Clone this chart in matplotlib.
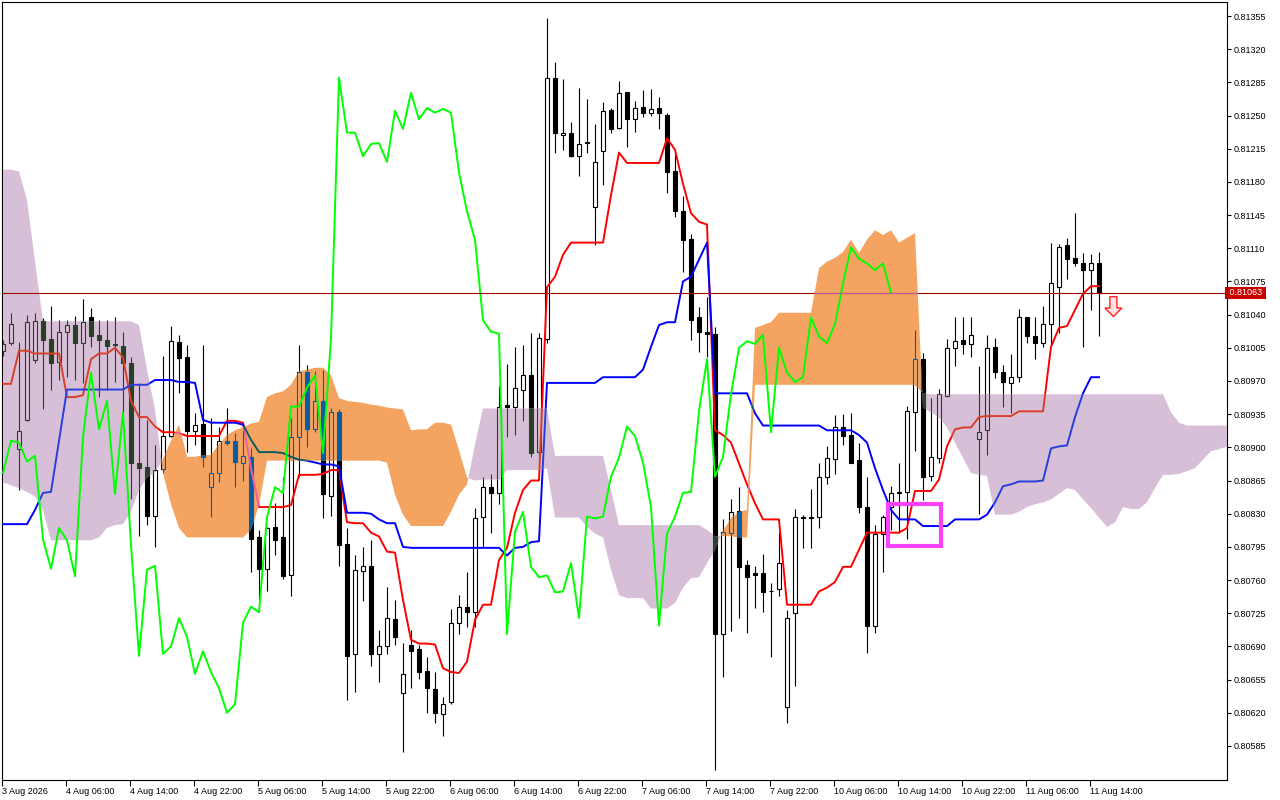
import numpy as np
import matplotlib.pyplot as plt
from matplotlib.path import Path
from matplotlib.patches import Rectangle, Polygon
from matplotlib.transforms import blended_transform_factory

plt.rcParams['font.family'] = ['Liberation Sans', 'DejaVu Sans']

# H1 candles, bar 0 = 3 Aug 22:00 ; prices in points (1e-5)
opens = [
    81002, 81010, 80898, 80929, 80992, 81033, 81014, 80990, 81022, 81029,
    81010, 81037, 81018, 81013, 81009, 81007, 80989, 80884, 80879, 80828,
    80877, 80912, 81011, 80995, 80917, 80925, 80858, 80873, 80907, 80907,
    80884, 80890, 80805, 80772, 80816, 80805, 80765, 80911, 80979, 80919,
    80949, 80849, 80937, 80798, 80682, 80770, 80775, 80682, 80690, 80719,
    80641, 80692, 80687, 80664, 80645, 80619, 80631, 80715, 80732, 80726,
    80827, 80858, 80852, 80945, 80943, 80961, 80976, 80895, 81014, 81290,
    81229, 81232, 81207, 81222, 81154, 81213, 81256, 81237, 81275, 81246,
    81259, 81253, 81258, 81251, 81191, 81149, 81120, 81037, 81022, 81020,
    80703, 80810, 80833, 80776, 80767, 80767, 80749, 80751, 80626, 80725,
    80827, 80826, 80827, 80869, 80888, 80921, 80913, 80887, 80837, 80712,
    80809, 80837, 80852, 80853, 80937, 80993, 80870, 80889, 80954, 81005,
    81013, 81009, 80909, 80918, 81006, 80979, 80968, 80974, 81037, 81017,
    81010, 81030, 81069, 81113, 81100, 81095, 81087, 81094,
]
highs = [
    81013, 81042, 81011, 81040, 81042, 81036, 81049, 81034, 81034, 81039,
    81057, 81047, 81034, 81034, 81038, 81022, 80995, 80968, 80929, 80903,
    80996, 81028, 81018, 81008, 80936, 81008, 80931, 80922, 80941, 80915,
    80922, 80899, 80813, 80816, 80841, 80869, 80931, 81008, 80987, 80981,
    80982, 80941, 80940, 80815, 80786, 80795, 80802, 80707, 80753, 80739,
    80694, 80707, 80692, 80679, 80663, 80637, 80729, 80744, 80768, 80836,
    80869, 80872, 80965, 80988, 81006, 81008, 81021, 81021, 81353, 81307,
    81289, 81243, 81279, 81268, 81241, 81264, 81258, 81286, 81275, 81265,
    81277, 81278, 81270, 81253, 81210, 81165, 81125, 81048, 81059, 81027,
    80824, 80846, 80858, 80781, 80775, 80787, 80757, 80811, 80728, 80835,
    80829, 80856, 80884, 80901, 80934, 80935, 80936, 80905, 80869, 80818,
    80829, 80859, 80883, 80944, 81024, 81000, 80952, 80962, 81014, 81037,
    81037, 81037, 80986, 81018, 81015, 80987, 80999, 81046, 81038, 81037,
    81049, 81116, 81114, 81121, 81147, 81105, 81104, 81106,
]
lows = [
    80996, 81008, 80855, 80928, 80989, 80940, 80961, 80971, 80974, 80971,
    80968, 81006, 80953, 80961, 80969, 80936, 80845, 80806, 80818, 80795,
    80873, 80911, 80957, 80895, 80902, 80879, 80827, 80863, 80903, 80858,
    80864, 80768, 80739, 80749, 80786, 80761, 80743, 80869, 80900, 80916,
    80825, 80828, 80775, 80633, 80642, 80738, 80669, 80653, 80682, 80692,
    80579, 80646, 80656, 80620, 80609, 80595, 80629, 80703, 80710, 80711,
    80794, 80810, 80840, 80911, 80913, 80928, 80890, 80890, 81010, 81211,
    81214, 81206, 81186, 81211, 81113, 81177, 81232, 81236, 81217, 81233,
    81249, 81250, 81236, 81168, 81143, 81085, 81013, 81001, 80995, 80560,
    80658, 80706, 80720, 80704, 80731, 80726, 80679, 80743, 80609, 80648,
    80794, 80794, 80815, 80861, 80872, 80902, 80883, 80831, 80683, 80704,
    80769, 80813, 80810, 80803, 80896, 80844, 80864, 80884, 80953, 80986,
    80998, 80995, 80830, 80892, 80973, 80943, 80936, 80969, 81010, 80993,
    81006, 81008, 81021, 81078, 81091, 81006, 81045, 81017,
]
closes = [
    81009, 81030, 80917, 81032, 81033, 81013, 80989, 81022, 81029, 81010,
    81032, 81017, 81013, 81007, 81008, 80989, 80884, 80878, 80828, 80876,
    80912, 81012, 80994, 80917, 80924, 80890, 80873, 80907, 80905, 80885,
    80891, 80803, 80772, 80815, 80802, 80764, 80911, 80979, 80919, 80949,
    80851, 80937, 80797, 80680, 80771, 80775, 80682, 80690, 80720, 80700,
    80661, 80685, 80663, 80646, 80620, 80629, 80715, 80732, 80726, 80826,
    80858, 80852, 80943, 80943, 80963, 80976, 80894, 81015, 81290, 81232,
    81232, 81207, 81220, 81221, 81201, 81255, 81236, 81274, 81246, 81258,
    81253, 81257, 81253, 81190, 81149, 81119, 81034, 81022, 81020, 80703,
    80811, 80832, 80774, 80763, 80765, 80747, 80748, 80778, 80720, 80827,
    80825, 80827, 80869, 80889, 80922, 80912, 80884, 80837, 80712, 80809,
    80827, 80852, 80853, 80938, 80993, 80869, 80890, 80956, 81005, 81012,
    81009, 81019, 80916, 81005, 80979, 80969, 80974, 81037, 81017, 81010,
    81030, 81073, 81111, 81099, 81094, 81087, 81094, 81063,
]
tenkan = [
    80967, 80967, 81002, 81002, 80999, 80999, 80999, 80999, 80953, 80953,
    80955, 80993, 80999, 80999, 81005, 80995, 80949, 80932, 80932, 80922,
    80916, 80916, 80915, 80912, 80912, 80912, 80912, 80912, 80928, 80928,
    80926, 80878, 80837, 80837, 80837, 80837, 80839, 80871, 80871, 80871,
    80872, 80876, 80876, 80821, 80820, 80820, 80810, 80806, 80790, 80789,
    80739, 80697, 80693, 80693, 80692, 80667, 80663, 80662, 80674, 80718,
    80734, 80734, 80781, 80794, 80831, 80855, 80865, 80865, 81069, 81080,
    81103, 81116, 81116, 81116, 81116, 81116, 81166, 81211, 81200, 81200,
    81200, 81200, 81200, 81226, 81214, 81178, 81147, 81138, 81135, 80918,
    80913, 80905, 80883, 80861, 80841, 80824, 80824, 80824, 80734, 80734,
    80734, 80734, 80748, 80752, 80758, 80774, 80774, 80792, 80810, 80810,
    80810, 80810, 80810, 80815, 80854, 80854, 80854, 80866, 80901, 80919,
    80921, 80921, 80932, 80933, 80933, 80933, 80933, 80938, 80938, 80938,
    80938, 81006, 81026, 81028, 81045, 81062, 81070, 81070,
]
kijun = [
    80819, 80819, 80819, 80819, 80834, 80852, 80853, 80907, 80961, 80961,
    80961, 80961, 80961, 80961, 80961, 80961, 80966, 80966, 80966, 80971,
    80971, 80971, 80969, 80969, 80968, 80929, 80926, 80926, 80926, 80926,
    80924, 80908, 80895, 80895, 80895, 80894, 80890, 80887, 80886, 80884,
    80882, 80882, 80880, 80831, 80831, 80831, 80830, 80824, 80820, 80820,
    80795, 80794, 80794, 80794, 80794, 80794, 80794, 80794, 80794, 80794,
    80794, 80794, 80794, 80786, 80794, 80795, 80800, 80801, 80968, 80968,
    80968, 80968, 80968, 80968, 80968, 80974, 80974, 80974, 80974, 80974,
    80982, 81006, 81029, 81032, 81032, 81075, 81080, 81098, 81116, 80957,
    80957, 80957, 80957, 80957, 80936, 80923, 80923, 80923, 80923, 80923,
    80923, 80923, 80923, 80918, 80918, 80918, 80918, 80913, 80905, 80878,
    80855, 80834, 80824, 80824, 80824, 80817, 80817, 80817, 80817, 80824,
    80824, 80824, 80824, 80829, 80842, 80859, 80861, 80864, 80864, 80864,
    80865, 80899, 80901, 80902, 80932, 80957, 80974, 80974,
]
# senkou spans, already shifted 26 bars ahead
span_a = [
    80863, 80860, 80857, 80853, 80848, 80834, 80802, 80802, 80802, 80802,
    80802, 80802, 80805, 80815, 80818, 80819, 80832, 80855, 80868, 80874,
    80887, 80907, 80924, 80890, 80890, 80892, 80892, 80903, 80913, 80918,
    80921, 80925, 80927, 80953, 80957, 80959, 80966, 80980, 80982, 80984,
    80984, 80976, 80952, 80949, 80948, 80947, 80945, 80944, 80942, 80941,
    80940, 80918, 80919, 80919, 80926, 80926, 80924, 80897, 80868, 80865,
    80866, 80866, 80866, 80876, 80876, 80876, 80876, 80876, 80878, 80826,
    80826, 80826, 80826, 80816, 80809, 80805, 80771, 80744, 80741, 80741,
    80741, 80730, 80730, 80730, 80736, 80752, 80762, 80763, 80778, 80792,
    80812, 80825, 80832, 80834, 81026, 81029, 81032, 81042, 81042, 81042,
    81042, 81042, 81089, 81096, 81100, 81106, 81119, 81105, 81119, 81129,
    81124, 81129, 81116, 81121, 81126, 80942, 80937, 80932, 80921, 80905,
    80889, 80873, 80871, 80870, 80829, 80829, 80829, 80832, 80837, 80840,
    80842, 80845, 80851, 80857, 80855, 80845, 80836, 80826, 80816, 80821,
    80837, 80835, 80835, 80842, 80857, 80871, 80871, 80872, 80875, 80878,
    80887, 80896, 80898, 80901, 80901,
]
span_b = [
    81193, 81193, 81191, 81161, 81096, 81033, 81033, 81033, 81033, 81033,
    81033, 81033, 81033, 81033, 81033, 81033, 81033, 81029, 80982, 80940,
    80873, 80840, 80815, 80805, 80805, 80805, 80805, 80805, 80805, 80805,
    80805, 80813, 80839, 80886, 80886, 80886, 80886, 80886, 80886, 80886,
    80886, 80886, 80886, 80886, 80886, 80886, 80886, 80886, 80884, 80850,
    80829, 80817, 80817, 80817, 80817, 80817, 80832, 80850, 80861, 80903,
    80941, 80941, 80941, 80941, 80941, 80941, 80941, 80941, 80941, 80891,
    80891, 80891, 80891, 80891, 80891, 80891, 80855, 80818, 80818, 80818,
    80818, 80818, 80818, 80818, 80818, 80818, 80818, 80818, 80813, 80806,
    80807, 80806, 80805, 80805, 80966, 80966, 80966, 80966, 80966, 80966,
    80966, 80966, 80966, 80966, 80966, 80966, 80966, 80966, 80966, 80966,
    80966, 80966, 80966, 80966, 80966, 80957, 80956, 80956, 80956, 80956,
    80956, 80956, 80956, 80956, 80956, 80956, 80956, 80956, 80956, 80956,
    80956, 80956, 80956, 80956, 80956, 80956, 80956, 80956, 80956, 80956,
    80956, 80956, 80956, 80956, 80956, 80956, 80937, 80926, 80923, 80923,
    80923, 80923, 80923, 80923, 80923,
]
time_labels = ["3 Aug 2026", "4 Aug 06:00", "4 Aug 14:00", "4 Aug 22:00",
               "5 Aug 06:00", "5 Aug 14:00", "5 Aug 22:00", "6 Aug 06:00",
               "6 Aug 14:00", "6 Aug 22:00", "7 Aug 06:00", "7 Aug 14:00",
               "7 Aug 22:00", "10 Aug 06:00", "10 Aug 14:00", "10 Aug 22:00",
               "11 Aug 06:00", "11 Aug 14:00"]
price_ticks = [0.80585, 0.80620, 0.80655, 0.80690, 0.80725, 0.80760, 0.80795,
               0.80830, 0.80865, 0.80900, 0.80935, 0.80970, 0.81005, 0.81040,
               0.81075, 0.81110, 0.81145, 0.81180, 0.81215, 0.81250, 0.81285,
               0.81320, 0.81355]
last_price = 0.81063

PT = 1e-5
o = np.array(opens) * PT
h = np.array(highs) * PT
l = np.array(lows) * PT
c = np.array(closes) * PT
tk = np.array(tenkan) * PT
kj = np.array(kijun) * PT
sa = np.array(span_a) * PT
sb = np.array(span_b) * PT
bars = np.arange(len(o))
cloud_x = np.arange(len(sa))

ORANGE, ORANGE_INV = '#F4A460', '#0B5B9F'
THISTLE, THISTLE_INV = '#D8BFD8', '#274027'

fig = plt.figure(figsize=(12.8, 8), dpi=100)
ax = fig.add_axes([2 / 1280, 20 / 800, 1225 / 1280, 778 / 800])
ax.set_xlim(-0.125, 153)
ax.set_ylim(0.805491, 0.813698)


def draw_candles(up_face, down_face, edge, z, clip=None):
    arts = [ax.vlines(bars, l, h, colors=edge, linewidth=0.8, zorder=z)]
    up = c >= o
    faces = [up_face if u else down_face for u in up]
    body = ax.bar(bars, np.abs(c - o), width=0.5, bottom=np.minimum(o, c),
                  color=faces, edgecolor=edge, linewidth=0.8, zorder=z + 0.1)
    arts += list(body)
    if clip is not None:
        for a in arts:
            a.set_clip_path(clip, ax.transData)


def draw_lines(red, blue, z, clip=None):
    arts = ax.plot(bars, tk, color=red, lw=1.4, zorder=z)
    arts += ax.plot(bars, kj, color=blue, lw=1.4, zorder=z)
    if clip is not None:
        for a in arts:
            a.set_clip_path(clip, ax.transData)


# normal drawing
draw_candles('white', 'black', 'black', 2)
draw_lines('#FF0000', '#0000FF', 3)

# kumo, painted like MT4 (inverting what lies below)
f_or = ax.fill_between(cloud_x, sa, sb, where=sa >= sb, interpolate=True,
                       color=ORANGE, linewidth=0, zorder=4)
f_th = ax.fill_between(cloud_x, sa, sb, where=sa < sb, interpolate=True,
                       color=THISTLE, linewidth=0, zorder=4)
or_path = Path.make_compound_path(*f_or.get_paths())
th_path = Path.make_compound_path(*f_th.get_paths())

draw_candles(ORANGE, ORANGE_INV, ORANGE_INV, 5, or_path)
draw_lines('#F45B9F', '#0B5B60', 5.5, or_path)
draw_candles(THISTLE, THISTLE_INV, THISTLE_INV, 5, th_path)
draw_lines('#D84027', '#2740D8', 5.5, th_path)

# chikou span
ax.plot(bars[:-26], c[26:], color='#00FF00', lw=1.4, zorder=6)

# bid line
ax.axhline(last_price, color='#A00000', lw=0.8, zorder=7)
pl = ax.axhline(last_price, color='#BB5B9F', lw=0.8, zorder=7.1)
pl.set_clip_path(or_path, ax.transData)

# marker box and sell arrow
ax.add_patch(Rectangle((110.6, 0.80796), 6.65, 0.00044, fill=False,
                       edgecolor='#FF40FF', lw=3, zorder=8))
ax_c, hw, sw = 138.8, 1.06, 0.44
arrow = [(ax_c - sw, 0.81059), (ax_c + sw, 0.81059), (ax_c + sw, 0.81047),
         (ax_c + hw, 0.81047), (ax_c, 0.81038), (ax_c - hw, 0.81047),
         (ax_c - sw, 0.81047)]
ax.add_patch(Polygon(arrow, closed=True, facecolor='#FFE4E4',
                     edgecolor='#FF2020', lw=1, zorder=8))

# axes
for s in ax.spines.values():
    s.set_color('black')
    s.set_linewidth(0.8)
ax.yaxis.tick_right()
ax.set_yticks(price_ticks)
ax.set_yticklabels([f'{p:.5f}' for p in price_ticks])
ax.set_xticks(np.arange(len(time_labels)) * 8 - 0.125)
ax.set_xticklabels(time_labels, ha='left')
ax.tick_params(axis='y', direction='out', length=3, width=0.8, pad=1.5,
               labelsize=6.5, colors='black')
ax.tick_params(axis='x', direction='out', length=4, width=0.8, pad=1,
               labelsize=6.5, colors='black')

tr = blended_transform_factory(ax.transAxes, ax.transData)
ax.text(1.0, last_price, ' 0.81063 ', transform=tr, ha='left', va='center',
        fontsize=6.5, color='white', zorder=10, clip_on=False,
        bbox=dict(facecolor='#C80000', edgecolor='none', pad=1.2))

fig.savefig('out.png', dpi=100)
